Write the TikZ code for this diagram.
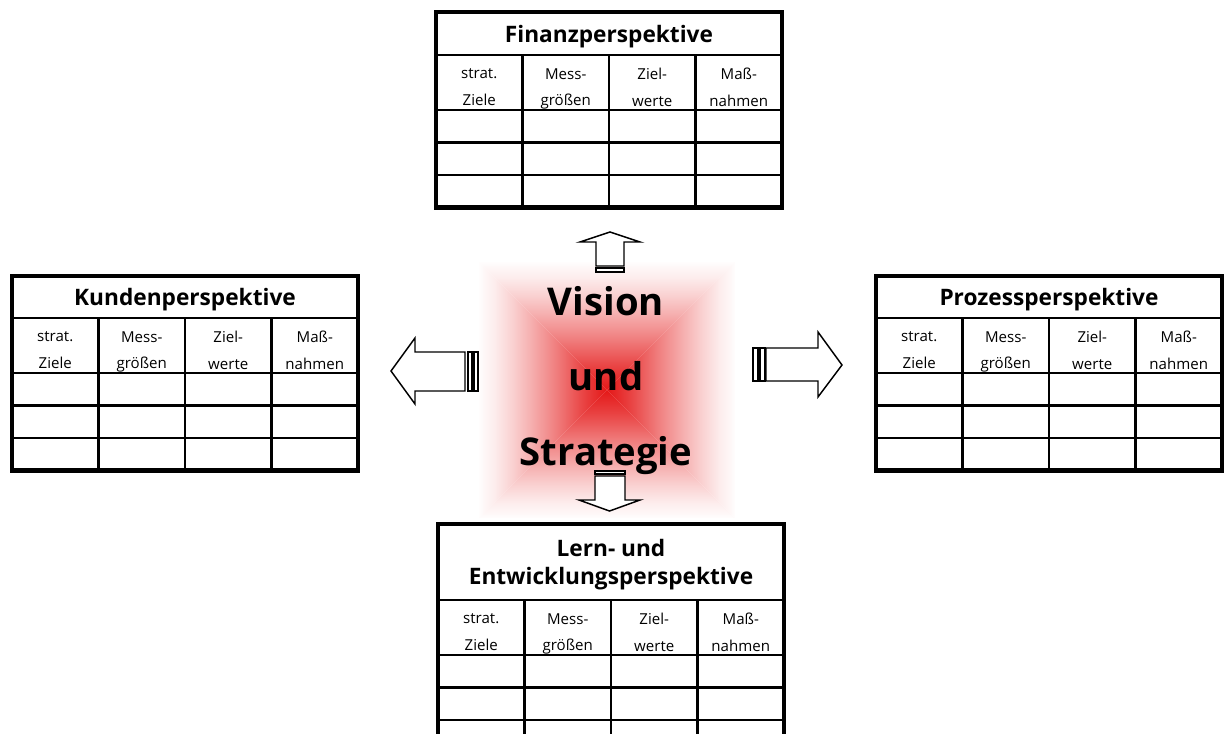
\documentclass[tikz,border=0pt]{standalone}
\usepackage{fontspec}
\setmainfont{Open Sans}

\definecolor{glowred}{RGB}{228,24,24}
% square glow: the middle 50bp of the shading are fitted to the path
\pgfdeclareverticalshading{glow}{100bp}{color(0bp)=(glowred); color(25bp)=(glowred);
  color(34bp)=(glowred!82!white); color(44bp)=(glowred!58!white); color(54bp)=(glowred!36!white);
  color(62bp)=(glowred!20!white); color(69bp)=(glowred!8!white); color(75bp)=(glowred!1!white);
  color(100bp)=(white)}

\tikzset{
  rahmen/.style={line width=3.6pt},
  linie/.style={line width=1.9pt},
  titel/.style={font=\bfseries\fontsize{17}{21}\selectfont, align=center},
  kopf/.style={font=\fontsize{11.3}{20}\selectfont, align=center, inner sep=0pt,
    execute at begin node=\strut, execute at end node=\strut},
  pfeil/.style={line width=1.1pt, fill=white},
  vision/.style={font=\bfseries\fontsize{28.7}{30}\selectfont, anchor=base},
}

% one perspective table: #1 name, #2/#3 upper left corner, #4 height of the title row, #5 title
\newcommand{\perspektive}[5]{%
  \begin{scope}[shift={(#2,#3)}]
    \node[titel] (#1) at (173,{#4/2+3}) {#5};
    \foreach \txt [count=\i] in {{strat.\\Ziele},{Mess-\\größen},{Ziel-\\werte},{Maß-\\nahmen}}
      \node[kopf] (#1-\i) at ({86.5*\i-43.25},{#4+36}) {\txt};
    \draw[linie] (0,#4) -- (346,#4);
    \foreach \r in {0,1,2}
      \draw[linie] (0,{#4+55+32.5*\r}) -- (346,{#4+55+32.5*\r});
    \foreach \c in {1,2,3}
      \draw[linie] ({86.5*\c},#4) -- ({86.5*\c},{#4+152.5});
    \draw[rahmen] (0,0) rectangle (346,{#4+152.5});
  \end{scope}
}

\begin{document}
\begin{tikzpicture}[x=0.75pt, y=-0.75pt]
\useasboundingbox (0,0) rectangle (1224,733);

\def \mx {607}
\def \my {390}
\def \hw {128} % half width of the glow

% glow, four triangles meeting in the centre
\shade[shading=glow, shading angle=0] ({\mx-\hw},{\my-\hw}) -- ({\mx+\hw},{\my-\hw}) -- (\mx,\my) -- cycle;
\shade[shading=glow, shading angle=180] ({\mx-\hw},{\my+\hw}) -- ({\mx+\hw},{\my+\hw}) -- (\mx,\my) -- cycle;
\shade[shading=glow, shading angle=90] ({\mx-\hw},{\my-\hw}) -- ({\mx-\hw},{\my+\hw}) -- (\mx,\my) -- cycle;
\shade[shading=glow, shading angle=-90] ({\mx+\hw},{\my-\hw}) -- ({\mx+\hw},{\my+\hw}) -- (\mx,\my) -- cycle;

% block arrows
\draw[pfeil] (610,232) -- (640,242) -- (624,242) -- (624,266) -- (596,266) -- (596,242) -- (580,242) -- cycle;
\draw[pfeil] (596,268) rectangle (624,272);
\draw[pfeil] (609.5,511) -- (640,500) -- (625,500) -- (625,476) -- (595,476) -- (595,500) -- (579,500) -- cycle;
\draw[pfeil] (595,471) rectangle (625,474);
\draw[pfeil] (391,371) -- (415,338) -- (415,352) -- (465,352) -- (465,391) -- (415,391) -- (415,404) -- cycle;
\draw[pfeil] (468,352) rectangle (472,391);
\draw[pfeil] (474,352) rectangle (478,391);
\draw[pfeil] (842,365) -- (818,332) -- (818,348) -- (766,348) -- (766,381) -- (818,381) -- (818,397) -- cycle;
\draw[pfeil] (760,348) rectangle (765,381);
\draw[pfeil] (753,348) rectangle (758,381);

% centre text
\node[vision] (vision) at (606,315) {Vision};
\node[vision] (und) at (606,390) {und};
\node[vision] (strategie) at (606,465) {Strategie};

% the four perspectives
\perspektive{finanz}{436}{12}{43}{Finanzperspektive}
\perspektive{kunden}{12}{276}{42}{Kundenperspektive}
\perspektive{prozess}{876}{276}{42}{Prozessperspektive}
\perspektive{lernen}{438}{524}{76}{Lern- und\\Entwicklungsperspektive}

\end{tikzpicture}
\end{document}
